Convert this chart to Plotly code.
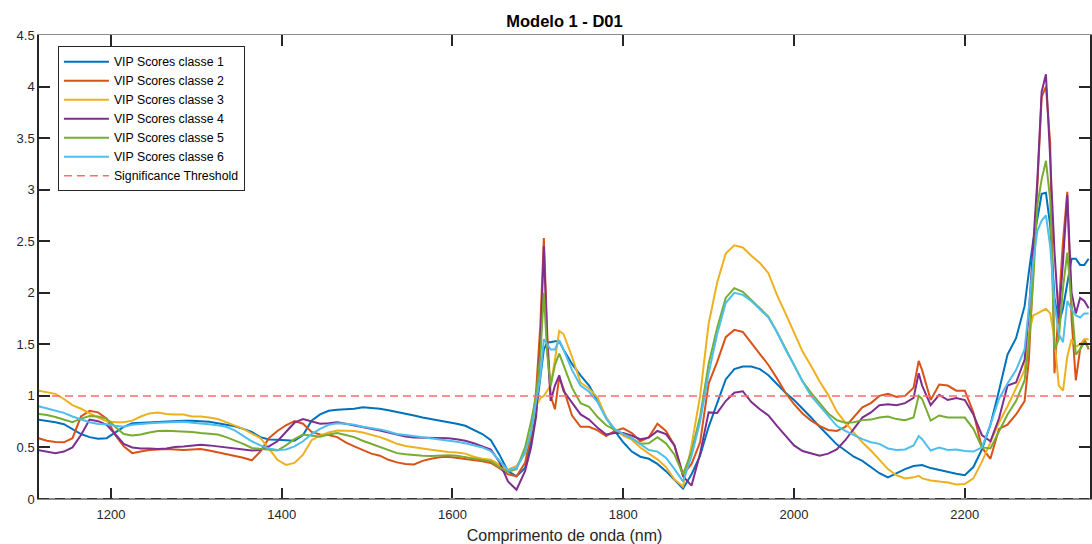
import plotly.graph_objects as go

# ---- wavelength grid (nm) ----
wavelength = [
    1115, 1125, 1135, 1145, 1155, 1165, 1175, 1185, 1195, 1205,
    1215, 1225, 1235, 1245, 1255, 1265, 1275, 1285, 1295, 1305,
    1315, 1325, 1335, 1345, 1355, 1365, 1375, 1385, 1395, 1405,
    1415, 1425, 1435, 1445, 1455, 1465, 1475, 1485, 1495, 1505,
    1515, 1525, 1535, 1545, 1555, 1565, 1575, 1585, 1595, 1605,
    1615, 1625, 1635, 1645, 1655, 1665, 1675, 1685,
    1692, 1698, 1703, 1707, 1711, 1715, 1720, 1725, 1730,
    1740, 1750, 1760, 1770, 1780, 1790, 1800, 1810, 1820, 1830,
    1840, 1850, 1860, 1870, 1880, 1890, 1900, 1910, 1920, 1930,
    1940, 1950, 1960, 1970, 1980, 1990, 2000, 2010, 2020, 2030,
    2040, 2050, 2060, 2070, 2080, 2090, 2100, 2110, 2120, 2130,
    2140, 2146, 2150, 2160, 2170, 2180, 2190, 2200, 2210, 2220,
    2230, 2240, 2250, 2260, 2270,
    2275, 2280, 2285, 2290, 2295, 2300, 2305, 2310, 2315, 2320,
    2325, 2330, 2335, 2340, 2345,
]

vip_classe_1 = [
    0.77, 0.76, 0.745, 0.725, 0.68, 0.63, 0.60, 0.585, 0.59, 0.645,
    0.70, 0.735, 0.74, 0.74, 0.745, 0.75, 0.755, 0.76, 0.76, 0.755,
    0.75, 0.735, 0.72, 0.705, 0.68, 0.65, 0.60, 0.578, 0.575, 0.57,
    0.565, 0.62, 0.76, 0.82, 0.855, 0.865, 0.87, 0.875, 0.89, 0.885,
    0.875, 0.86, 0.845, 0.825, 0.81, 0.79, 0.775, 0.765, 0.745, 0.73,
    0.71, 0.67, 0.63, 0.57, 0.43, 0.27, 0.22, 0.30,
    0.55, 0.85, 1.2, 1.45, 1.52, 1.52, 1.53, 1.53, 1.45,
    1.31, 1.20, 1.10, 0.95, 0.79, 0.66, 0.55, 0.46, 0.41, 0.39,
    0.34, 0.27, 0.18, 0.10, 0.24, 0.42, 0.70, 0.94, 1.16, 1.26,
    1.285, 1.285, 1.26, 1.20, 1.12, 1.03, 0.96, 0.88, 0.79, 0.70,
    0.62, 0.53, 0.47, 0.41, 0.37, 0.31, 0.25, 0.21, 0.25, 0.29,
    0.32, 0.33, 0.33, 0.30, 0.28, 0.26, 0.245, 0.23, 0.31, 0.48,
    0.72, 1.05, 1.40, 1.56, 1.87,
    2.2, 2.5, 2.72, 2.96, 2.97, 2.65, 1.95, 1.70, 1.85, 2.10,
    2.33, 2.33, 2.27, 2.27, 2.33,
]

vip_classe_2 = [
    0.59, 0.565, 0.552, 0.55, 0.59, 0.80, 0.855, 0.84, 0.78, 0.62,
    0.51, 0.445, 0.46, 0.475, 0.48, 0.485, 0.48, 0.476, 0.48, 0.485,
    0.47, 0.452, 0.44, 0.42, 0.40, 0.375, 0.46, 0.59, 0.66, 0.715,
    0.755, 0.73, 0.65, 0.625, 0.62, 0.60, 0.55, 0.51, 0.475, 0.44,
    0.42, 0.38, 0.355, 0.34, 0.335, 0.37, 0.39, 0.405, 0.41, 0.40,
    0.39, 0.38, 0.365, 0.35, 0.30, 0.24, 0.22, 0.35,
    0.62, 1.05, 1.7, 2.53, 1.6, 1.0, 0.87, 1.18, 1.07,
    0.81, 0.70, 0.70, 0.665, 0.61, 0.66, 0.685, 0.64, 0.56, 0.60,
    0.73, 0.66, 0.52, 0.24, 0.34, 0.55, 1.12, 1.33, 1.57, 1.64,
    1.62, 1.51, 1.40, 1.30, 1.17, 1.03, 0.92, 0.83, 0.76, 0.71,
    0.67, 0.66, 0.70, 0.80, 0.89, 0.93, 1.00, 1.02, 0.99, 1.00,
    1.08, 1.34, 1.25, 0.96, 1.11, 1.10, 1.05, 1.05, 0.84, 0.50,
    0.39, 0.68, 0.72, 0.82, 0.95,
    1.35, 2.25, 3.0, 3.9, 4.0, 3.45, 1.22, 1.9, 2.5, 2.98,
    1.75, 1.15, 1.45, 1.55, 1.45,
]

vip_classe_3 = [
    1.05, 1.035, 1.02, 0.97, 0.91, 0.875, 0.83, 0.79, 0.755, 0.745,
    0.745, 0.76, 0.80, 0.83, 0.838, 0.825, 0.82, 0.82, 0.80, 0.80,
    0.79, 0.775, 0.745, 0.71, 0.68, 0.635, 0.59, 0.49, 0.38, 0.33,
    0.35, 0.43, 0.57, 0.615, 0.645, 0.665, 0.665, 0.66, 0.645, 0.625,
    0.60, 0.57, 0.535, 0.515, 0.50, 0.49, 0.478, 0.465, 0.455, 0.45,
    0.44, 0.41, 0.39, 0.38, 0.33, 0.285, 0.32, 0.44,
    0.66, 0.90, 0.98, 1.0, 1.05, 1.1, 1.35, 1.63, 1.6,
    1.38, 1.13, 1.07, 0.985, 0.79, 0.675, 0.615, 0.575, 0.50, 0.44,
    0.385, 0.31, 0.19, 0.12, 0.52, 1.0, 1.70, 2.10, 2.38, 2.46,
    2.44, 2.36, 2.29, 2.19, 1.98, 1.80, 1.61, 1.43, 1.29, 1.14,
    1.01, 0.85, 0.74, 0.64, 0.55, 0.47, 0.38, 0.29, 0.23, 0.20,
    0.21, 0.225, 0.20, 0.18, 0.17, 0.16, 0.14, 0.145, 0.20, 0.36,
    0.55, 0.74, 0.90, 1.08, 1.25,
    1.6, 1.78, 1.8, 1.82, 1.845, 1.8, 1.55, 1.1, 1.05, 1.38,
    1.55, 1.48, 1.5, 1.55, 1.55,
]

vip_classe_4 = [
    0.475, 0.46, 0.445, 0.46, 0.50, 0.62, 0.77, 0.755, 0.72, 0.63,
    0.535, 0.50, 0.49, 0.49, 0.485, 0.49, 0.505, 0.51, 0.52, 0.525,
    0.52, 0.51, 0.495, 0.485, 0.475, 0.47, 0.475, 0.51, 0.56, 0.65,
    0.74, 0.775, 0.75, 0.73, 0.735, 0.745, 0.73, 0.715, 0.70, 0.685,
    0.665, 0.645, 0.625, 0.605, 0.597, 0.597, 0.597, 0.595, 0.59, 0.58,
    0.565, 0.54, 0.51, 0.48, 0.36, 0.17, 0.09, 0.27,
    0.5, 0.8, 1.5, 2.45, 1.5, 0.95, 1.1, 1.2, 1.05,
    0.94, 0.82, 0.77, 0.69, 0.625, 0.64, 0.64, 0.615, 0.58, 0.595,
    0.66, 0.63, 0.52, 0.22, 0.13, 0.44, 0.84, 0.835, 0.95, 1.03,
    1.045, 0.94, 0.87, 0.81, 0.71, 0.61, 0.52, 0.465, 0.44, 0.42,
    0.44, 0.48, 0.57, 0.68, 0.79, 0.84, 0.91, 0.92, 0.91, 0.93,
    0.98, 1.22, 1.10, 0.91, 1.01, 0.96, 0.98, 0.96, 0.82, 0.62,
    0.56, 0.78, 1.10, 1.13, 1.35,
    1.8, 2.4, 3.1, 3.95, 4.12, 3.3, 2.4, 1.75, 2.3, 2.95,
    2.0, 1.8, 1.95, 1.92, 1.85,
]

vip_classe_5 = [
    0.825, 0.815, 0.795, 0.77, 0.745, 0.78, 0.805, 0.80, 0.78, 0.70,
    0.63, 0.615, 0.625, 0.645, 0.66, 0.663, 0.66, 0.657, 0.65, 0.64,
    0.635, 0.625, 0.60, 0.57, 0.535, 0.495, 0.485, 0.476, 0.47, 0.52,
    0.58, 0.625, 0.615, 0.605, 0.625, 0.64, 0.62, 0.60, 0.565, 0.535,
    0.50, 0.47, 0.445, 0.435, 0.425, 0.42, 0.416, 0.42, 0.425, 0.42,
    0.405, 0.39, 0.38, 0.365, 0.31, 0.265, 0.29, 0.50,
    0.75, 1.0, 1.4, 2.0, 1.4, 1.1, 1.3, 1.41, 1.3,
    1.08, 0.93, 0.895, 0.795, 0.715, 0.67, 0.63, 0.59, 0.535, 0.54,
    0.60, 0.54, 0.43, 0.24, 0.46, 0.80, 1.31, 1.66, 1.95, 2.045,
    2.01, 1.93, 1.84, 1.77, 1.62, 1.46, 1.31, 1.14, 1.03, 0.93,
    0.83, 0.765, 0.74, 0.745, 0.765, 0.77, 0.79, 0.80, 0.775, 0.765,
    0.79, 1.0, 0.97, 0.76, 0.81, 0.79, 0.79, 0.79, 0.68, 0.50,
    0.49, 0.66, 0.82, 0.95, 1.15,
    1.5, 2.1, 2.85, 3.1, 3.28, 2.9, 1.45, 1.55, 2.05, 2.39,
    1.9, 1.4, 1.45, 1.52, 1.47,
]

vip_classe_6 = [
    0.90, 0.88, 0.86, 0.835, 0.80, 0.775, 0.745, 0.728, 0.725, 0.71,
    0.70, 0.72, 0.73, 0.735, 0.74, 0.744, 0.746, 0.748, 0.74, 0.735,
    0.725, 0.715, 0.70, 0.665, 0.61, 0.56, 0.52, 0.49, 0.475, 0.48,
    0.51, 0.56, 0.63, 0.68, 0.72, 0.735, 0.73, 0.72, 0.70, 0.69,
    0.675, 0.655, 0.63, 0.62, 0.61, 0.595, 0.585, 0.575, 0.565, 0.555,
    0.54, 0.52, 0.50, 0.465, 0.37, 0.28, 0.30, 0.45,
    0.65, 0.95, 1.2, 1.55, 1.5, 1.45, 1.45, 1.54, 1.45,
    1.25, 1.10, 1.04, 0.94, 0.78, 0.68, 0.63, 0.59, 0.53, 0.475,
    0.46, 0.40, 0.29, 0.17, 0.42, 0.75, 1.22, 1.6, 1.9, 2.0,
    1.98, 1.92, 1.84, 1.76, 1.62, 1.45, 1.30, 1.14, 1.0, 0.90,
    0.80, 0.71, 0.66, 0.62, 0.58, 0.55, 0.535, 0.49, 0.475, 0.48,
    0.52, 0.61, 0.58, 0.47, 0.50, 0.475, 0.48, 0.465, 0.46, 0.50,
    0.72, 0.97, 1.12, 1.25, 1.45,
    1.85, 2.3, 2.6, 2.7, 2.75, 2.45, 1.9, 1.6, 1.52, 1.92,
    1.84, 1.78, 1.76, 1.8, 1.8,
]

series_names = ["VIP Scores classe 1", "VIP Scores classe 2", "VIP Scores classe 3",
                "VIP Scores classe 4", "VIP Scores classe 5", "VIP Scores classe 6"]
series_colors = ["#0072BD", "#D95319", "#EDB120", "#7E2F8E", "#77AC30", "#4DBEEE"]
series_values = [vip_classe_1, vip_classe_2, vip_classe_3, vip_classe_4, vip_classe_5, vip_classe_6]

threshold_value = 1.0
x_range = [1115.8, 2346.6]
y_range = [0, 4.5]
x_ticks = [1200, 1400, 1600, 1800, 2000, 2200]
y_ticks = [0, 0.5, 1, 1.5, 2, 2.5, 3, 3.5, 4, 4.5]
y_ticklabels = ["0", "0.5", "1", "1.5", "2", "2.5", "3", "3.5", "4", "4.5"]

for s in series_values:
    assert len(s) == len(wavelength), len(s)

FONT = "Liberation Sans, Arial, Helvetica, sans-serif"
DARK = "#262626"

fig = go.Figure()
for name, color, vals in zip(series_names, series_colors, series_values):
    fig.add_trace(go.Scatter(x=wavelength, y=vals, mode="lines", name=name,
                             line=dict(color=color, width=2)))

fig.add_trace(go.Scatter(x=x_range, y=[threshold_value, threshold_value], mode="lines",
                         name="Significance Threshold",
                         line=dict(color="#FF6B6B", width=1.5, dash="8px,5px")))

fig.update_layout(
    width=1092, height=544,
    margin=dict(l=39, r=0, t=35, b=45),
    paper_bgcolor="white", plot_bgcolor="white",
    font=dict(family=FONT, size=13, color=DARK),
    title=dict(text="<b>Modelo 1 - D01</b>", x=0.5, xref="paper", xanchor="center",
               y=1 - 21 / 544, yref="container", yanchor="middle",
               font=dict(family=FONT, size=16.5, color="#000000")),
    showlegend=True,
    legend=dict(x=0.018, y=0.976, xanchor="left", yanchor="top",
                bgcolor="white", bordercolor=DARK, borderwidth=1,
                font=dict(family=FONT, size=12.3, color="#000000"),
                itemwidth=45, tracegroupgap=0),
)

fig.update_xaxes(
    range=x_range, tickvals=x_ticks, ticktext=[str(t) for t in x_ticks],
    ticks="inside", ticklen=11, tickwidth=1.5, tickcolor=DARK,
    showline=True, linecolor="#8c8c8c", linewidth=1, mirror="ticks",
    showgrid=False, zeroline=False, ticklabelstandoff=3,
    tickfont=dict(family=FONT, size=13, color=DARK),
    title=dict(text="Comprimento de onda (nm)", font=dict(family=FONT, size=16, color=DARK), standoff=10),
)
fig.update_yaxes(
    range=y_range, tickvals=y_ticks, ticktext=y_ticklabels,
    ticks="inside", ticklen=11, tickwidth=1.5, tickcolor=DARK,
    showline=True, linecolor=DARK, linewidth=1.5, mirror="ticks",
    showgrid=False, zeroline=False,
    tickfont=dict(family=FONT, size=13, color=DARK),
)

# baseline at zero: grey solid with a dark dashed line on top
fig.add_shape(type="line", xref="paper", yref="y", x0=0, x1=1, y0=0, y1=0,
              line=dict(color="#8c8c8c", width=2))
fig.add_shape(type="line", xref="paper", yref="y", x0=0, x1=1, y0=0, y1=0,
              line=dict(color="#333333", width=2, dash="10px,6px"))

fig.write_html("out.html")
